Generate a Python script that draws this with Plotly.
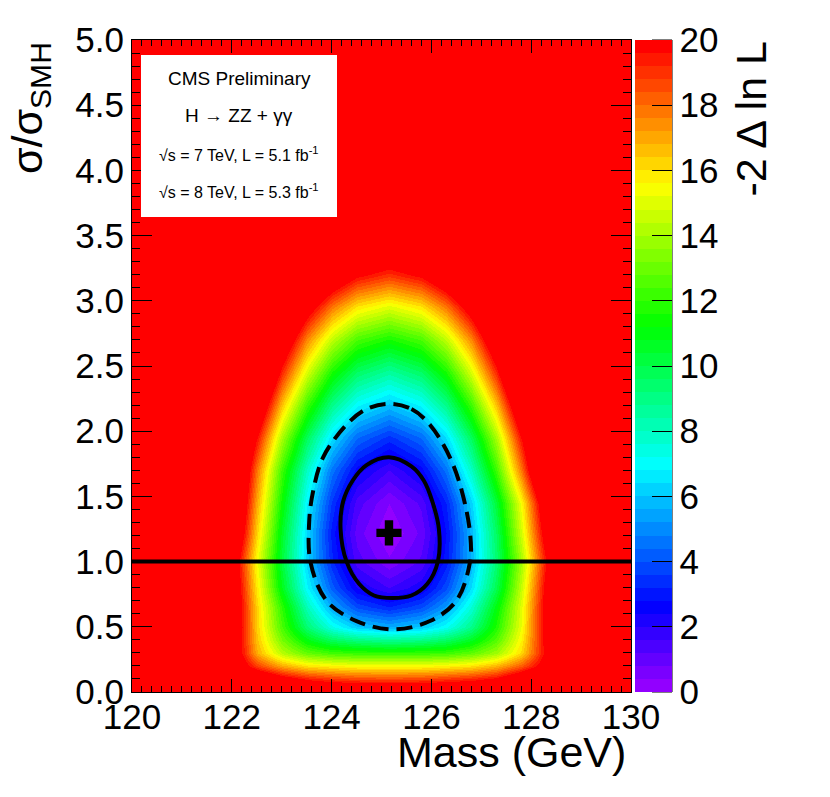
import colorsys
import plotly.graph_objects as go

FONT = "Liberation Sans, Arial, Helvetica, sans-serif"

# ---------------- data ----------------
mass = [120, 121, 121.5, 122, 122.5, 123, 123.5, 124, 124.5, 125.15,
        125.8, 126.3, 126.8, 127.3, 127.8, 128.3, 128.8, 129.3, 130]
mu = [0, 0.1, 0.2, 0.3, 0.4, 0.5, 0.65, 0.8, 1.0, 1.22, 1.45, 1.7,
      1.95, 2.2, 2.45, 2.7, 2.95, 3.2, 3.5, 4.0, 5.0]

# -2 Delta lnL values (rows follow mu, columns follow mass); >20 saturates
nll = [
    [22, 22, 22, 22, 22, 22, 22, 22, 22, 22, 22, 22, 22, 22, 22, 22, 22, 22, 22],
    [25, 25, 25, 24.0, 22.0, 20.5, 19.5, 19.0, 18.7, 18.6, 18.7, 19.0, 19.3, 19.9, 21.5, 23.0, 25, 25, 25],
    [25, 25, 23.5, 21.5, 18.8, 17.0, 16.0, 15.7, 15.5, 15.5, 15.5, 15.7, 16.0, 16.8, 18.3, 20.5, 23.0, 25, 25],
    [25, 25, 25, 21.4, 16.9, 14.3, 12.9, 12.3, 12.1, 12.0, 12.1, 12.2, 12.8, 13.9, 16.1, 20.0, 25, 25, 25],
    [25, 25, 25, 21.6, 16.5, 13.2, 11.0, 9.7, 9.1, 8.8, 9.0, 9.6, 10.7, 12.6, 15.6, 20.2, 25, 25, 25],
    [25, 25, 25, 21.8, 16.3, 12.4, 9.3, 7.3, 6.1, 5.6, 6.1, 7.1, 8.9, 11.7, 15.2, 20.4, 25, 25, 25],
    [25, 25, 25, 21.8, 16.2, 11.9, 8.1, 5.5, 3.9, 3.2, 3.9, 5.3, 7.6, 11.0, 15.0, 20.4, 25, 25, 25],
    [25, 25, 25, 21.6, 15.8, 10.8, 6.9, 4.2, 2.4, 1.6, 2.3, 3.9, 6.4, 9.9, 14.5, 20.2, 25, 25, 25],
    [25, 25, 25, 21.3, 15.3, 10.2, 6.2, 3.3, 1.4, 0.5, 1.3, 3.0, 5.7, 9.3, 13.9, 19.6, 25, 25, 25],
    [25, 25, 25, 22.8, 16.2, 10.6, 6.3, 3.0, 1.0, 0.0, 0.9, 2.8, 5.7, 9.6, 14.7, 20.7, 25, 25, 25],
    [25, 25, 25, 23.7, 16.9, 11.3, 6.8, 3.5, 1.4, 0.4, 1.3, 3.2, 6.2, 10.3, 15.4, 21.6, 25, 25, 25],
    [25, 25, 25, 24.4, 17.8, 12.2, 7.9, 4.6, 2.6, 1.6, 2.6, 4.6, 7.9, 12.2, 17.8, 24.4, 25, 25, 25],
    [25, 25, 25, 25, 19.6, 14.0, 9.7, 6.4, 4.4, 3.4, 4.4, 6.4, 9.7, 14.0, 19.6, 25, 25, 25, 25],
    [25, 25, 25, 25, 22.1, 16.5, 12.2, 8.9, 6.9, 5.9, 6.9, 8.9, 12.2, 16.5, 22.1, 25, 25, 25, 25],
    [25, 25, 25, 25, 24.7, 19.1, 14.8, 11.5, 9.5, 8.5, 9.5, 11.5, 14.8, 19.1, 24.7, 25, 25, 25, 25],
    [25, 25, 25, 25, 25, 21.7, 17.5, 14.4, 12.4, 11.5, 12.4, 14.4, 17.5, 21.7, 25, 25, 25, 25, 25],
    [25, 25, 25, 25, 25, 24.7, 20.7, 17.8, 15.9, 15.0, 15.9, 17.8, 20.7, 24.7, 25, 25, 25, 25, 25],
    [25, 25, 25, 25, 25, 25, 24.4, 21.7, 19.9, 19.0, 19.9, 21.7, 24.4, 25, 25, 25, 25, 25, 25],
    [25, 25, 25, 25, 25, 25, 25, 25, 23.8, 23.0, 23.8, 25, 25, 25, 25, 25, 25, 25, 25],
    [25, 25, 25, 25, 25, 25, 25, 25, 25, 25, 25, 25, 25, 25, 25, 25, 25, 25, 25],
    [25, 25, 25, 25, 25, 25, 25, 25, 25, 25, 25, 25, 25, 25, 25, 25, 25, 25, 25],
]

# 68% CL contour (solid)
c68_mass = [125.15, 125.6, 125.85, 126.02, 126.15, 126.13, 125.92, 125.6, 125.22,
            124.85, 124.55, 124.3, 124.18, 124.23, 124.42, 124.7, 125.15]
c68_mu = [1.80, 1.73, 1.62, 1.46, 1.25, 1.0, 0.83, 0.74, 0.72,
          0.74, 0.83, 1.0, 1.25, 1.46, 1.62, 1.74, 1.80]

# 95% CL contour (dashed)
c95_mass = [125.15, 125.6, 125.97, 126.37, 126.61, 126.78, 126.77, 126.5, 125.97,
            125.24, 124.5, 123.9, 123.58, 123.55, 123.63, 123.83, 124.3, 124.7, 125.15]
c95_mu = [2.21, 2.17, 2.05, 1.8, 1.54, 1.2, 0.99, 0.70, 0.544,
          0.48, 0.544, 0.70, 0.99, 1.3, 1.54, 1.8, 2.05, 2.17, 2.21]

best_mass = [125.15]
best_mu = [1.22]

sm_mu = 1.0

x_ticks = [120, 122, 124, 126, 128, 130]
y_ticks = [0.0, 0.5, 1.0, 1.5, 2.0, 2.5, 3.0, 3.5, 4.0, 4.5, 5.0]
z_ticks = [0, 2, 4, 6, 8, 10, 12, 14, 16, 18, 20]
z_max = 20

legend_lines = ["CMS Preliminary",
                "H \u2192 ZZ + \u03b3\u03b3",
                "\u221as = 7 TeV, L = 5.1 fb<sup>-1</sup>",
                "\u221as = 8 TeV, L = 5.3 fb<sup>-1</sup>"]
legend_sizes = [19, 19, 16, 16]

# ---------------- ROOT "pretty" palette (50 bands) ----------------
ncol = 50
cs = []
for i in range(ncol):
    hue = 280 - (i + 1) * (280.0 / ncol)
    r, g, b = colorsys.hls_to_rgb(hue / 360.0, 0.5, 1.0)
    col = "rgb(%d,%d,%d)" % (round(r * 255), round(g * 255), round(b * 255))
    cs.append([i / ncol, col])
    cs.append([(i + 1) / ncol, col])

# ---------------- geometry helpers (pixel -> paper) ----------------
PL, PR, PT, PB = 132, 631, 40, 692
W, H = 830, 797


def xp(px):
    return (px - PL) / (PR - PL)


def yp(py):
    return (PB - py) / (PB - PT)


fig = go.Figure()

fig.add_trace(go.Heatmap(
    x=mass, y=mu, z=nll, zmin=0, zmax=z_max, zsmooth="best",
    colorscale=cs, hoverinfo="skip",
    colorbar=dict(
        x=xp(635), xanchor="left", y=0.5, yanchor="middle",
        len=1, lenmode="fraction", thickness=37, thicknessmode="pixels",
        xpad=0, ypad=0, outlinewidth=0,
        ticks="inside", ticklen=20, tickwidth=1, tickcolor="black",
        tickvals=z_ticks, tickfont=dict(size=35, color="black", family=FONT),
    ),
))

fig.add_trace(go.Scatter(
    x=[mass[0], mass[-1]], y=[sm_mu, sm_mu], mode="lines",
    line=dict(color="black", width=4), hoverinfo="skip"))

fig.add_trace(go.Scatter(
    x=c95_mass, y=c95_mu, mode="lines", fill="toself", fillcolor="rgba(0,0,0,0)",
    line=dict(color="black", width=4, dash="16px,8px", shape="spline", smoothing=1.0),
    hoverinfo="skip"))

fig.add_trace(go.Scatter(
    x=c68_mass, y=c68_mu, mode="lines", fill="toself", fillcolor="rgba(0,0,0,0)",
    line=dict(color="black", width=4, shape="spline", smoothing=1.0),
    hoverinfo="skip"))

fig.add_trace(go.Scatter(
    x=best_mass, y=best_mu, mode="markers",
    marker=dict(symbol="cross", size=21, color="black", line=dict(width=0)),
    hoverinfo="skip"))

axis_common = dict(
    ticks="inside", tickcolor="black", tickwidth=1,
    showline=True, linecolor="black", linewidth=1, mirror="ticks",
    showgrid=False, zeroline=False,
    tickfont=dict(size=35, color="black", family=FONT),
)

fig.update_xaxes(range=[120, 130], tickvals=x_ticks, ticklen=13,
                 ticklabelstandoff=-6,
                 minor=dict(ticks="inside", ticklen=6, dtick=0.2, tick0=120,
                            tickcolor="black", showgrid=False),
                 **axis_common)
fig.update_yaxes(range=[0, 5], tickvals=y_ticks, tickformat=".1f", ticklen=20,
                 minor=dict(ticks="inside", ticklen=8, dtick=0.1, tick0=0,
                            tickcolor="black", showgrid=False),
                 **axis_common)

shapes = [
    dict(type="rect", xref="paper", yref="paper",
         x0=xp(141), x1=xp(337), y0=yp(217), y1=yp(55),
         fillcolor="white", line=dict(width=0), layer="above"),
    dict(type="line", xref="paper", yref="paper",
         x0=xp(672), x1=xp(672), y0=0, y1=1,
         line=dict(color="black", width=1), layer="above"),
]
# palette-axis ticks on the right edge of the colour bar, pointing inwards
for zt in z_ticks:
    shapes.append(dict(type="line", xref="paper", yref="paper",
                       x0=xp(652), x1=xp(672), y0=zt / z_max, y1=zt / z_max,
                       line=dict(color="black", width=1), layer="above"))

annotations = []
line_y = [78, 115, 154, 191]
for txt, ly, fs in zip(legend_lines, line_y, legend_sizes):
    annotations.append(dict(
        text=txt, xref="paper", yref="paper", x=xp(239), y=yp(ly),
        xanchor="center", yanchor="middle", showarrow=False,
        font=dict(size=fs, color="black", family=FONT)))

annotations.append(dict(
    text="Mass (GeV)", xref="paper", yref="paper", x=xp(628), y=yp(752),
    xanchor="right", yanchor="middle", showarrow=False,
    font=dict(size=43, color="black", family=FONT)))

annotations.append(dict(
    text="\u03c3/\u03c3<sub>SMH</sub>", xref="paper", yref="paper",
    x=xp(30), y=1.0, xanchor="center", yanchor="top", textangle=-90,
    showarrow=False, font=dict(size=43, color="black", family=FONT)))

annotations.append(dict(
    text="-2 \u0394 ln L", xref="paper", yref="paper",
    x=xp(750), y=1.0, xanchor="center", yanchor="top", textangle=-90,
    showarrow=False, font=dict(size=43, color="black", family=FONT)))

fig.update_layout(
    width=W, height=H,
    margin=dict(l=PL, r=W - PR, t=PT, b=H - PB, autoexpand=False),
    paper_bgcolor="white", plot_bgcolor="red",
    font=dict(family=FONT, color="black"),
    showlegend=False, shapes=shapes, annotations=annotations,
)

# remove the browser's default 8px page margin so the figure sits at (0, 0)
fig.write_html("out.html",
               config={"displayModeBar": False},
               post_script="document.body.style.margin='0px';document.body.style.padding='0px';")
